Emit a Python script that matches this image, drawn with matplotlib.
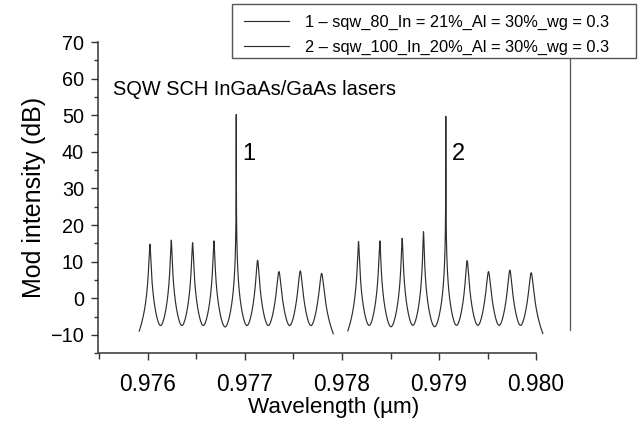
import numpy as np
import matplotlib
matplotlib.use("Agg")
import matplotlib.pyplot as plt
from matplotlib.ticker import MultipleLocator
from matplotlib.patches import Rectangle

# ---- data ----
peaks1_wl = [0.97602, 0.97624, 0.97646, 0.97668, 0.97691, 0.97713, 0.97735, 0.97757, 0.97779]
peaks1_db = [14.8, 15.9, 15.2, 15.7, 50.2, 10.4, 7.3, 7.5, 6.8]
span1 = (0.97591, 0.97791)

peaks2_wl = [0.97817, 0.97839, 0.97862, 0.97884, 0.97907, 0.97929, 0.97951, 0.97973, 0.97995]
peaks2_db = [15.5, 15.7, 16.4, 18.2, 49.7, 10.3, 7.3, 7.7, 7.0]
span2 = (0.97806, 0.98007)

floor_db = -9.0  # level each mode falls to half-way to its neighbour

label1 = "1 \u2013 sqw_80_In = 21%_Al = 30%_wg = 0.3"
label2 = "2 \u2013 sqw_100_In_20%_Al = 30%_wg = 0.3"
title_txt = "SQW SCH InGaAs/GaAs lasers"

xticks = [0.976, 0.977, 0.978, 0.979, 0.980]
yticks = [-10, 0, 10, 20, 30, 40, 50, 60, 70]


def spectrum(wl, db, span):
    wl = np.asarray(wl)
    db = np.asarray(db)
    half = np.mean(np.diff(wl)) / 2
    x = np.unique(np.concatenate([np.linspace(span[0], span[1], 40001), wl]))
    gamma = half / np.sqrt(10 ** ((db - floor_db) / 10) - 1)
    yi = db[:, None] - 10 * np.log10(1 + ((x[None, :] - wl[:, None]) / gamma[:, None]) ** 2)
    p = 2.0
    y = 10 / p * np.log10(np.sum(10 ** (p * yi / 10), axis=0))
    return x, y


plt.rcParams["font.family"] = ["Liberation Sans", "DejaVu Sans"]

W, H = 640, 421
fig = plt.figure(figsize=(6.4, 4.21), dpi=100)
ax = fig.add_axes([98 / W, 1 - 353.3 / H, (570 - 98) / W, (353.3 - 42) / H])

lc = "#2e2e2e"
x1, y1 = spectrum(peaks1_wl, peaks1_db, span1)
x2, y2 = spectrum(peaks2_wl, peaks2_db, span2)
l1, = ax.plot(x1, y1, color=lc, lw=0.85, label=label1)
l2, = ax.plot(x2, y2, color=lc, lw=0.85, label=label2)

ax.set_xlim(0.975485, 0.98035)
ax.set_ylim(-15, 70)

ax.set_xticks(xticks)
ax.set_xticklabels(["%.3f" % v for v in xticks])
ax.xaxis.set_minor_locator(MultipleLocator(0.0005))
ax.set_yticks(yticks)
ax.yaxis.set_minor_locator(MultipleLocator(5))

sc = "#333333"
for s in ["left", "bottom", "right"]:
    ax.spines[s].set_color(sc)
    ax.spines[s].set_linewidth(1.1)
ax.spines["right"].set_color("#555555")
ax.spines["right"].set_linewidth(0.9)
ax.spines["top"].set_visible(False)
ax.spines["bottom"].set_bounds(0.9755, 0.980)
ax.spines["right"].set_bounds(-8.7, 70)

ax.tick_params(axis="x", which="major", direction="out", length=5, width=1.0,
               color=sc, labelsize=16.4, pad=9)
ax.tick_params(axis="x", which="minor", direction="out", length=4, width=1.0, color=sc)
ax.tick_params(axis="y", which="major", direction="out", length=5, width=1.0,
               color=sc, labelsize=14.3, pad=5)
ax.tick_params(axis="y", which="minor", direction="out", length=3, width=1.0, color=sc)
ax.tick_params(right=False, which="both")

ax.set_xlabel("Wavelength (\u00b5m)", fontsize=16.2, labelpad=1)
ax.set_ylabel("Mod intensity (dB)", fontsize=18, labelpad=3)

ax.text(0.97564, 57.0, title_txt, fontsize=14.4, ha="left", va="center")
ax.text(0.97697, 39.4, "1", fontsize=17, ha="left", va="center")
ax.text(0.97913, 39.4, "2", fontsize=17, ha="left", va="center")

# legend frame drawn in figure pixels
frame = Rectangle((232 / W, 1 - 58 / H), (636 - 232) / W, (58 - 4) / H,
                  transform=fig.transFigure, facecolor="white",
                  edgecolor="#555555", linewidth=1.0, zorder=3)
fig.patches.append(frame)

leg = fig.legend(handles=[l1, l2], loc="upper left",
                 bbox_to_anchor=(244 / W, 1 - 14.5 / H), fontsize=11.8,
                 frameon=False, handlelength=2.75,
                 handletextpad=1.0, borderpad=0.0, labelspacing=0.6,
                 borderaxespad=0)
leg.set_zorder(5)

fig.savefig("out.png", dpi=100)
